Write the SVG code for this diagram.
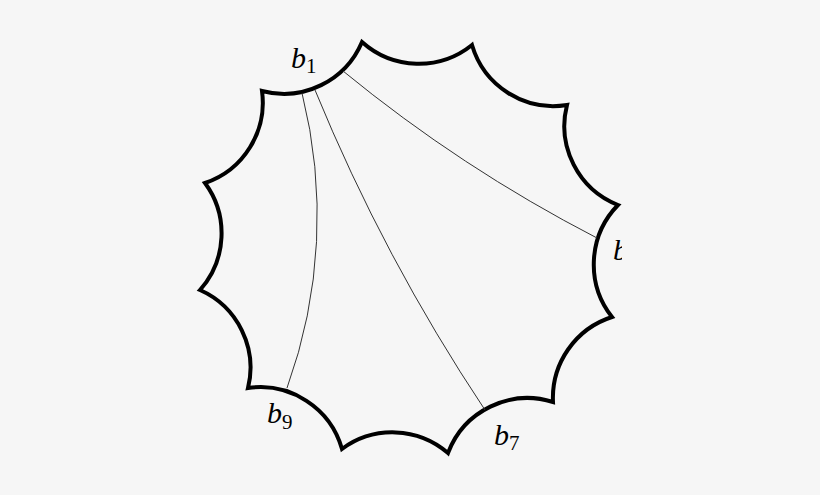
<svg xmlns="http://www.w3.org/2000/svg" width="820" height="495" viewBox="0 0 820 495">
<style>
.edge{fill:none;stroke:#000;stroke-width:4;stroke-linejoin:miter;stroke-miterlimit:10}
.diag{fill:none;stroke:#333;stroke-width:1}
.lb{font-family:"Liberation Serif",serif;font-style:italic;font-size:30px;fill:#000}
.sub{font-family:"Liberation Serif",serif;font-style:normal;font-size:21px;fill:#000}
</style>
<defs>
<clipPath id="clipR"><rect x="0" y="0" width="622" height="495"/></clipPath>
</defs>
<rect width="820" height="495" fill="#f6f6f6"/>
<g id="polygon">
<path class="edge" d="M362,42 A85,85 0 0 0 472,45 A85,85 0 0 0 567,105 A85,85 0 0 0 618,205 A85,85 0 0 0 612,317 A85,85 0 0 0 553,402 A85,85 0 0 0 448,453 A85,85 0 0 0 342,449 A85,85 0 0 0 248,388 A85,85 0 0 0 200,290 A85,85 0 0 0 205,183 A85,85 0 0 0 262,91 A85,85 0 0 0 362,42 Z"/>
</g>
<g id="connectors">
<path class="diag" d="M302,93 A505,505 0 0 1 287,388"/>
<path class="diag" d="M315,90 A1824,1824 0 0 0 485,410"/>
<path class="diag" d="M343,71 A1448,1448 0 0 0 597,238"/>
</g>
<g id="label-b1"><text class="lb" x="291" y="68">b<tspan class="sub" dy="5">1</tspan></text></g>
<g id="label-b9"><text class="lb" x="267" y="423">b<tspan class="sub" dy="6">9</tspan></text></g>
<g id="label-b7"><text class="lb" x="494" y="445">b<tspan class="sub" dy="5">7</tspan></text></g>
<g id="label-b3" clip-path="url(#clipR)"><text class="lb" x="613" y="260">b</text></g>
</svg>
